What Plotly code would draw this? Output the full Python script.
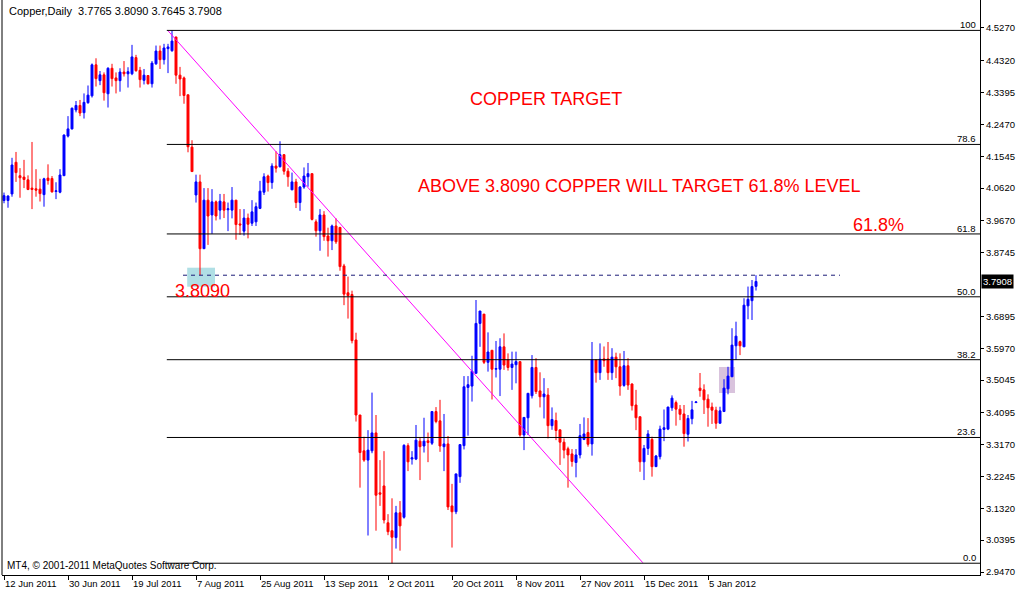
import plotly.graph_objects as go

# ---------------- data ----------------
opens = [4.026, 4.026, 4.045, 4.137, 4.098, 4.094, 4.086, 4.062, 4.060, 4.059,
         4.043, 4.091, 4.090, 4.052, 4.050, 4.098, 4.213, 4.234, 4.289, 4.302,
         4.281, 4.310, 4.330, 4.420, 4.374, 4.391, 4.336, 4.410, 4.382, 4.374,
         4.399, 4.394, 4.394, 4.441, 4.404, 4.375, 4.389, 4.365, 4.423, 4.460,
         4.435, 4.467, 4.461, 4.501, 4.390, 4.382, 4.333, 4.181, 4.042, 4.080,
         3.886, 4.027, 3.984, 4.022, 3.998, 4.022, 3.999, 3.998, 4.027, 3.958,
         3.937, 3.975, 3.960, 3.964, 4.003, 4.050, 4.097, 4.078, 4.126, 4.124,
         4.159, 4.111, 4.057, 4.080, 4.020, 4.065, 4.095, 4.104, 3.964, 3.938,
         3.984, 3.923, 3.909, 3.952, 3.948, 3.836, 3.758, 3.753, 3.621, 3.403,
         3.299, 3.272, 3.299, 3.351, 3.177, 3.197, 3.090, 3.067, 3.047, 3.119,
         3.106, 3.314, 3.275, 3.275, 3.327, 3.313, 3.328, 3.321, 3.413, 3.386,
         3.311, 3.319, 3.139, 3.122, 3.224, 3.314, 3.483, 3.487, 3.524, 3.669,
         3.696, 3.556, 3.591, 3.536, 3.536, 3.601, 3.563, 3.541, 3.549, 3.558,
         3.345, 3.395, 3.459, 3.541, 3.473, 3.456, 3.461, 3.372, 3.387, 3.360,
         3.324, 3.305, 3.290, 3.265, 3.287, 3.332, 3.352, 3.319, 3.563, 3.526,
         3.566, 3.566, 3.526, 3.571, 3.543, 3.489, 3.546, 3.493, 3.432, 3.398,
         3.267, 3.306, 3.332, 3.253, 3.282, 3.361, 3.362, 3.424, 3.439, 3.420,
         3.406, 3.347, 3.392, 3.439, 3.481, 3.476, 3.449, 3.426, 3.417, 3.379,
         3.413, 3.479, 3.514, 3.604, 3.616, 3.601, 3.720, 3.735, 3.7765]
highs = [4.049, 4.041, 4.150, 4.167, 4.120, 4.144, 4.099, 4.196, 4.117, 4.089,
         4.092, 4.131, 4.097, 4.079, 4.117, 4.218, 4.271, 4.296, 4.315, 4.318,
         4.337, 4.360, 4.424, 4.439, 4.402, 4.398, 4.413, 4.423, 4.398, 4.410,
         4.431, 4.413, 4.478, 4.449, 4.414, 4.408, 4.390, 4.431, 4.476, 4.476,
         4.481, 4.481, 4.520, 4.501, 4.414, 4.386, 4.333, 4.201, 4.101, 4.101,
         4.062, 4.062, 4.059, 4.026, 4.045, 4.045, 4.020, 4.065, 4.027, 4.001,
         4.001, 3.988, 4.027, 4.020, 4.083, 4.105, 4.101, 4.134, 4.169, 4.198,
         4.161, 4.120, 4.107, 4.089, 4.068, 4.122, 4.135, 4.104, 3.971, 4.001,
         3.995, 3.947, 3.956, 3.974, 3.948, 3.842, 3.805, 3.764, 3.642, 3.403,
         3.340, 3.359, 3.468, 3.403, 3.272, 3.298, 3.115, 3.161, 3.139, 3.153,
         3.318, 3.321, 3.298, 3.374, 3.336, 3.395, 3.352, 3.413, 3.426, 3.447,
         3.406, 3.342, 3.203, 3.232, 3.317, 3.516, 3.516, 3.575, 3.737, 3.705,
         3.696, 3.643, 3.591, 3.618, 3.626, 3.640, 3.582, 3.587, 3.587, 3.558,
         3.396, 3.466, 3.577, 3.568, 3.527, 3.510, 3.481, 3.425, 3.410, 3.360,
         3.335, 3.311, 3.304, 3.304, 3.377, 3.396, 3.394, 3.615, 3.563, 3.611,
         3.602, 3.615, 3.597, 3.584, 3.582, 3.589, 3.568, 3.495, 3.476, 3.398,
         3.316, 3.359, 3.340, 3.287, 3.372, 3.419, 3.427, 3.460, 3.445, 3.432,
         3.432, 3.403, 3.444, 3.441, 3.525, 3.492, 3.463, 3.439, 3.427, 3.427,
         3.507, 3.543, 3.655, 3.674, 3.619, 3.742, 3.776, 3.795, 3.8090]
lows = [4.018, 4.005, 4.037, 4.080, 4.034, 4.062, 4.056, 4.001, 4.037, 4.023,
        4.008, 4.072, 4.049, 4.030, 4.047, 4.098, 4.209, 4.232, 4.282, 4.271,
        4.264, 4.307, 4.325, 4.357, 4.361, 4.316, 4.296, 4.357, 4.337, 4.342,
        4.386, 4.354, 4.390, 4.400, 4.354, 4.363, 4.363, 4.354, 4.420, 4.408,
        4.421, 4.396, 4.458, 4.365, 4.329, 4.307, 4.166, 4.110, 4.020, 3.809,
        3.886, 3.897, 3.929, 3.968, 3.971, 3.975, 3.937, 3.974, 3.912, 3.926,
        3.924, 3.916, 3.952, 3.952, 4.001, 4.042, 4.052, 4.060, 4.107, 4.122,
        4.101, 4.066, 4.056, 4.004, 3.996, 4.060, 4.066, 3.968, 3.921, 3.880,
        3.909, 3.863, 3.882, 3.900, 3.822, 3.722, 3.683, 3.611, 3.384, 3.192,
        3.267, 3.053, 3.292, 3.067, 3.139, 3.088, 3.054, 2.9725, 3.015, 3.009,
        3.102, 3.240, 3.259, 3.272, 3.214, 3.294, 3.266, 3.316, 3.379, 3.296,
        3.240, 3.127, 3.018, 3.115, 3.206, 3.303, 3.343, 3.442, 3.524, 3.601,
        3.551, 3.529, 3.448, 3.512, 3.458, 3.534, 3.532, 3.476, 3.495, 3.340,
        3.301, 3.345, 3.451, 3.464, 3.425, 3.393, 3.335, 3.360, 3.330, 3.258,
        3.277, 3.192, 3.253, 3.222, 3.277, 3.330, 3.311, 3.285, 3.497, 3.505,
        3.543, 3.505, 3.505, 3.510, 3.459, 3.485, 3.476, 3.416, 3.359, 3.238,
        3.214, 3.287, 3.224, 3.253, 3.274, 3.327, 3.359, 3.415, 3.372, 3.388,
        3.311, 3.326, 3.376, 3.439, 3.456, 3.406, 3.369, 3.377, 3.363, 3.379,
        3.413, 3.463, 3.514, 3.563, 3.577, 3.601, 3.681, 3.679, 3.7645]
closes = [4.040, 4.039, 4.129, 4.107, 4.092, 4.087, 4.058, 4.058, 4.056, 4.046,
          4.089, 4.084, 4.051, 4.054, 4.100, 4.216, 4.234, 4.294, 4.302, 4.280,
          4.311, 4.332, 4.420, 4.380, 4.391, 4.339, 4.410, 4.380, 4.374, 4.399,
          4.394, 4.400, 4.443, 4.403, 4.377, 4.390, 4.365, 4.425, 4.460, 4.435,
          4.469, 4.472, 4.489, 4.390, 4.379, 4.331, 4.182, 4.110, 4.080, 3.886,
          4.027, 3.981, 4.022, 3.981, 4.024, 3.998, 4.002, 4.027, 3.956, 3.955,
          3.975, 3.957, 3.993, 4.008, 4.053, 4.095, 4.078, 4.126, 4.120, 4.159,
          4.111, 4.095, 4.080, 4.020, 4.065, 4.097, 4.104, 3.971, 3.938, 3.984,
          3.921, 3.909, 3.952, 3.906, 3.834, 3.754, 3.750, 3.619, 3.403, 3.294,
          3.272, 3.301, 3.351, 3.170, 3.173, 3.098, 3.064, 3.048, 3.119, 3.081,
          3.315, 3.267, 3.279, 3.330, 3.311, 3.327, 3.323, 3.413, 3.384, 3.313,
          3.319, 3.136, 3.122, 3.232, 3.317, 3.485, 3.491, 3.530, 3.669, 3.705,
          3.556, 3.586, 3.536, 3.538, 3.601, 3.548, 3.541, 3.551, 3.558, 3.345,
          3.396, 3.466, 3.541, 3.471, 3.456, 3.464, 3.372, 3.390, 3.358, 3.324,
          3.301, 3.287, 3.268, 3.287, 3.343, 3.348, 3.318, 3.563, 3.526, 3.565,
          3.561, 3.526, 3.571, 3.543, 3.487, 3.546, 3.490, 3.430, 3.395, 3.267,
          3.306, 3.348, 3.253, 3.284, 3.362, 3.366, 3.426, 3.452, 3.420, 3.405,
          3.349, 3.393, 3.418, 3.441, 3.474, 3.447, 3.424, 3.417, 3.379, 3.415,
          3.481, 3.516, 3.606, 3.632, 3.604, 3.722, 3.739, 3.776, 3.7908]

date_labels = ["12 Jun 2011", "30 Jun 2011", "19 Jul 2011", "7 Aug 2011",
               "25 Aug 2011", "13 Sep 2011", "2 Oct 2011", "20 Oct 2011",
               "8 Nov 2011", "27 Nov 2011", "15 Dec 2011", "5 Jan 2012"]
date_label_bars = [0, 16, 32, 48, 64, 80, 96, 112, 128, 144, 160, 176]

price_ticks = [4.5270, 4.4320, 4.3395, 4.2470, 4.1545, 4.0620, 3.9670, 3.8745,
               3.6895, 3.5970, 3.5045, 3.4095, 3.3170, 3.2245, 3.1320, 3.0395, 2.9470]

fib_high = 4.5200
fib_low = 2.9725
fib_start_bar = 40.7
fib_levels = [100.0, 78.6, 61.8, 50.0, 38.2, 23.6, 0.0]
fib_labels = ["100", "78.6", "61.8", "50.0", "38.2", "23.6", "0.0"]

trend_bars = [41.0, 159.7]
trend_prices = [4.519, 2.974]

breakout_level = 3.8090
breakout_bars = [44.75, 209.0]
last_price = 3.7908
title_text = "Copper,Daily  3.7765 3.8090 3.7645 3.7908"

n = len(closes)
bars = list(range(n))

X_MIN, X_MAX = -0.5, 244.0
Y_MIN, Y_MAX = 2.9383, 4.6083
FONT = "Liberation Sans, Arial, sans-serif"
SMALL = 9.5

fig = go.Figure()

fig.add_trace(go.Candlestick(
    x=bars, open=opens, high=highs, low=lows, close=closes,
    increasing=dict(line=dict(color="#0000ff", width=1), fillcolor="#0000ff"),
    decreasing=dict(line=dict(color="#ff0000", width=1), fillcolor="#ff0000"),
    whiskerwidth=0, hoverinfo="skip", showlegend=False,
))

# trend line
fig.add_trace(go.Scatter(x=trend_bars, y=trend_prices, mode="lines",
                         line=dict(color="#ff00ff", width=1),
                         hoverinfo="skip", showlegend=False))

shapes = []
annotations = []

# left border
shapes.append(dict(type="line", xref="paper", yref="paper", x0=0, x1=0, y0=0, y1=1,
                   line=dict(color="black", width=1)))

# highlight boxes
shapes.append(dict(type="rect", xref="x", yref="y", x0=45.8, x1=52.75,
                   y0=3.7756, y1=3.8308, fillcolor="#b0dfe5",
                   line=dict(width=0), layer="below"))
shapes.append(dict(type="rect", xref="x", yref="y", x0=178.75, x1=182.75,
                   y0=3.4669, y1=3.5424, fillcolor="#d9c3dd",
                   line=dict(width=0), layer="below"))

# fibonacci levels
for lvl, lab in zip(fib_levels, fib_labels):
    price = fib_low + lvl / 100.0 * (fib_high - fib_low)
    shapes.append(dict(type="line", xref="x", yref="y", x0=fib_start_bar, x1=X_MAX,
                       y0=price, y1=price, line=dict(color="black", width=1)))
    annotations.append(dict(x=243.3, y=price, xref="x", yref="y", text=lab,
                            showarrow=False, xanchor="right", yanchor="bottom",
                            font=dict(family=FONT, size=SMALL, color="black"),
                            borderpad=0, yshift=-1))

# dashed breakout line
shapes.append(dict(type="line", xref="x", yref="y", x0=breakout_bars[0], x1=breakout_bars[1],
                   y0=breakout_level, y1=breakout_level,
                   line=dict(color="#1c1c78", width=1, dash="4px,4px")))

# texts
red = "#ff0000"
annotations += [
    dict(x=135.5, y=4.321, xref="x", yref="y", text="COPPER TARGET", showarrow=False,
         font=dict(family=FONT, size=18, color=red)),
    dict(x=158.75, y=4.068, xref="x", yref="y",
         text="ABOVE 3.8090 COPPER WILL TARGET 61.8% LEVEL", showarrow=False,
         font=dict(family=FONT, size=18, color=red)),
    dict(x=218.6, y=3.955, xref="x", yref="y", text="61.8%", showarrow=False,
         font=dict(family=FONT, size=18, color=red)),
    dict(x=49.5, y=3.763, xref="x", yref="y", text="3.8090", showarrow=False,
         font=dict(family=FONT, size=18, color=red)),
    dict(x=0.005, y=1, xref="paper", yref="paper", text=title_text, showarrow=False,
         xanchor="left", yanchor="top", yshift=-3,
         font=dict(family=FONT, size=11, color="black")),
    dict(x=0.003, y=0, xref="paper", yref="paper",
         text="MT4, © 2001-2011 MetaQuotes Software Corp.", showarrow=False,
         xanchor="left", yanchor="bottom", yshift=2,
         font=dict(family=FONT, size=10, color="black")),
    dict(x=1, y=last_price, xref="paper", yref="y", text="%.4f" % last_price,
         showarrow=False, xanchor="left", xshift=1, bgcolor="black", borderpad=1,
         font=dict(family=FONT, size=SMALL, color="white")),
]

fig.update_layout(
    width=1018, height=592,
    margin=dict(l=2, r=38, t=0, b=17, autoexpand=False),
    paper_bgcolor="white", plot_bgcolor="white",
    showlegend=False,
    shapes=shapes, annotations=annotations,
    font=dict(family=FONT, size=SMALL, color="black"),
    xaxis=dict(range=[X_MIN, X_MAX], tickvals=date_label_bars, ticktext=date_labels,
               ticks="outside", ticklen=4, tickcolor="black", tickangle=0,
               ticklabelposition="outside right", automargin=False,
               showgrid=False, zeroline=False, showline=True, linecolor="black",
               linewidth=1, rangeslider=dict(visible=False),
               tickfont=dict(family=FONT, size=SMALL, color="black"), fixedrange=True),
    yaxis=dict(range=[Y_MIN, Y_MAX], side="right", tickvals=price_ticks,
               tickformat=".4f", ticks="outside", ticklen=3, tickcolor="black",
               automargin=False,
               showgrid=False, zeroline=False, showline=True, linecolor="black",
               linewidth=1, tickfont=dict(family=FONT, size=SMALL, color="black"),
               fixedrange=True),
)

fig.write_html("out.html", config={"displayModeBar": False},
               post_script="document.body.style.margin='0';document.body.style.overflow='hidden';")
